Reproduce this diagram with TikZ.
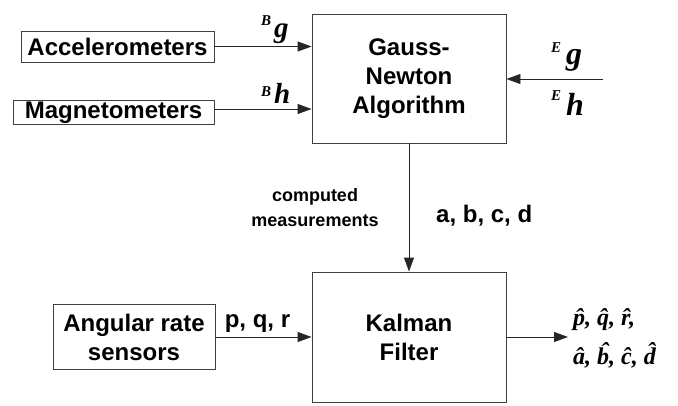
\documentclass[tikz,border=0pt]{standalone}
\usepackage{fontspec}
\setmainfont{Liberation Sans}
\newfontfamily\tms{Liberation Serif}
\usetikzlibrary{arrows.meta}
\newcommand\hatch[1]{\accent"02C6 #1}
\begin{document}
\begin{tikzpicture}[x=1pt,y=-1pt,
  box/.style={draw=black!75, line width=0.9pt, align=center, inner sep=0pt,
    font=\fontsize{24}{29}\selectfont\bfseries},
  conn/.style={draw=black!85, line width=0.9pt, -{Triangle[length=14pt,width=10pt]}},
  lab/.style={inner sep=0pt, align=center, font=\fontsize{24}{29}\selectfont\bfseries},
  smlab/.style={inner sep=0pt, align=center, font=\fontsize{18}{25}\selectfont\bfseries},
  sym/.style={inner sep=0pt, font=\tms\bfseries\itshape\fontsize{29}{30}\selectfont},
  bigsym/.style={inner sep=0pt, font=\tms\bfseries\itshape\fontsize{32}{34}\selectfont},
  sup/.style={inner sep=0pt, font=\tms\bfseries\itshape\fontsize{15}{15}\selectfont},
  outlab/.style={inner sep=0pt, font=\tms\bfseries\itshape\fontsize{24}{26}\selectfont}]
\useasboundingbox (0,0) rectangle (678,405);
% blocks
\node[box, minimum width=193pt, minimum height=31pt] (acc) at (117.5,46.5) {Accelerometers};
\node[box, minimum width=201pt, minimum height=24pt] (mag) at (113.5,112.5) {Magnetometers};
\node[box, minimum width=194pt, minimum height=129pt] (gn) at (409,78.5) {Gauss-\\Newton\\Algorithm};
\node[box, minimum width=194pt, minimum height=130pt] (kf) at (409,337) {Kalman\\Filter};
\node[box, minimum width=162pt, minimum height=65pt] (ang) at (134,337) {Angular rate\\sensors};
\coordinate (ein) at (603,79);
\coordinate (out) at (568,337);
\coordinate (m1) at ([yshift=3.5pt]mag.east);
% connectors
\draw[conn] (acc.east) -- (acc.east -| gn.west);
\draw[conn] (m1) -- (m1 -| gn.west);
\draw[conn] (ein) -- (ein -| gn.east);
\draw[conn] (gn.south) -- (kf.north);
\draw[conn] (ang.east) -- (ang.east -| kf.west);
\draw[conn] (kf.east) -- (out);
% labels
\node[sup, anchor=base west] (bg1) at (261,25) {B};
\node[sym, anchor=base west] (bg2) at (274,37) {g};
\node[sup, anchor=base west] (bh1) at (261,96) {B};
\node[sym, anchor=base west] (bh2) at (274,103) {h};
\node[sup, anchor=base west] (eg1) at (551,52) {E};
\node[bigsym, anchor=base west] (eg2) at (566,64) {g};
\node[sup, anchor=base west] (eh1) at (551,100) {E};
\node[bigsym, anchor=base west] (eh2) at (566,115) {h};
\node[lab, anchor=base] (pqr) at (257.5,327) {p, q, r};
\node[lab, anchor=base west] (abcd) at (436,222) {a, b, c, d};
\node[smlab] (cm) at (315,208) {computed\\measurements};
\node[outlab, anchor=base west] (o1) at (573,325) {\hatch{p}, \hatch{q}, \hatch{r},};
\node[outlab, anchor=base west] (o2) at (573,364) {\hatch{a}, \hatch{b}, \hatch{c}, \hatch{d}};
\end{tikzpicture}
\end{document}
